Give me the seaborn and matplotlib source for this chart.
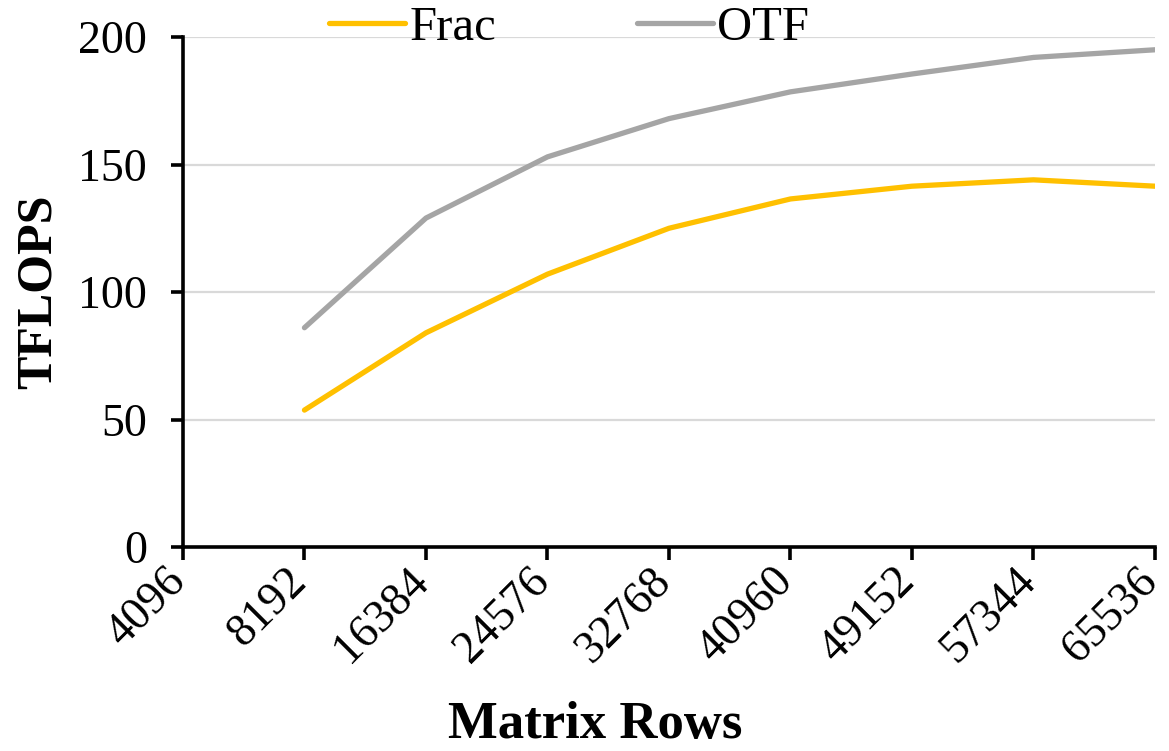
import matplotlib
matplotlib.use("Agg")
import matplotlib.pyplot as plt
import matplotlib.transforms as mtransforms
import seaborn as sns
import pandas as pd
from matplotlib.lines import Line2D

categories = ["4096", "8192", "16384", "24576", "32768", "40960", "49152", "57344", "65536"]
data_rows = ["8192", "16384", "24576", "32768", "40960", "49152", "57344", "65536"]
frac = [53.7, 84, 107, 125, 136.5, 141.5, 144, 141.5]
otf = [86, 129, 153, 168, 178.5, 185.5, 192, 195]
y_ticks = [0, 50, 100, 150, 200]

sns.set_theme(style="white")
plt.rcParams["font.family"] = ["Liberation Serif", "DejaVu Serif"]

pos = {c: i for i, c in enumerate(categories)}
df = pd.DataFrame({
    "x": [pos[r] for r in data_rows] * 2,
    "y": frac + otf,
    "series": ["Frac"] * len(frac) + ["OTF"] * len(otf),
})

fig = plt.figure(figsize=(11.69, 7.51), dpi=100)
ax = fig.add_axes([0.1565, 0.2716, 0.8315, 0.6791])

sns.lineplot(data=df, x="x", y="y", hue="series",
             palette={"Frac": "#FFC000", "OTF": "#A5A5A5"},
             linewidth=3.8, ax=ax, legend=False, zorder=3)

ax.set_xlim(0, len(categories) - 1)
ax.set_ylim(0, 200)
ax.set_xticks(range(len(categories)))
ax.set_xticklabels(categories, rotation=45, ha="right", va="center",
                   rotation_mode="anchor")
ax.set_yticks(y_ticks)
ax.yaxis.grid(True, color="#D9D9D9", linewidth=1.6, zorder=0)
ax.xaxis.grid(False)
for s in ["top", "right"]:
    ax.spines[s].set_visible(False)
for s in ["left", "bottom"]:
    ax.spines[s].set_color("black")
    ax.spines[s].set_linewidth(2.6)
ax.tick_params(axis="both", which="major", labelsize=33, color="black",
               labelcolor="black", width=2.6, length=9, direction="out",
               left=True, bottom=True)
ax.tick_params(axis="y", pad=17)
ax.tick_params(axis="x", pad=11)

shift = mtransforms.ScaledTranslation(-4 / 100, 0, fig.dpi_scale_trans)
for lbl in ax.get_xticklabels():
    lbl.set_transform(lbl.get_transform() + shift)

ax.set_xlabel("Matrix Rows", fontsize=38, fontweight="bold", color="black",
              va="center")
ax.xaxis.set_label_coords(0.424, -0.348)
ax.set_ylabel("TFLOPS", fontsize=36, fontweight="bold", labelpad=12,
              color="black")

handles = [Line2D([], [], color="#FFC000", linewidth=3.8),
           Line2D([], [], color="#A5A5A5", linewidth=3.8)]
fig.legend(handles, ["Frac", "OTF"], loc="center", bbox_to_anchor=(0.487, 0.963),
           ncol=2, frameon=False, fontsize=35, handlelength=1.55,
           handletextpad=0.1, columnspacing=2.9, labelcolor="black")

fig.savefig("out.png", dpi=100)
